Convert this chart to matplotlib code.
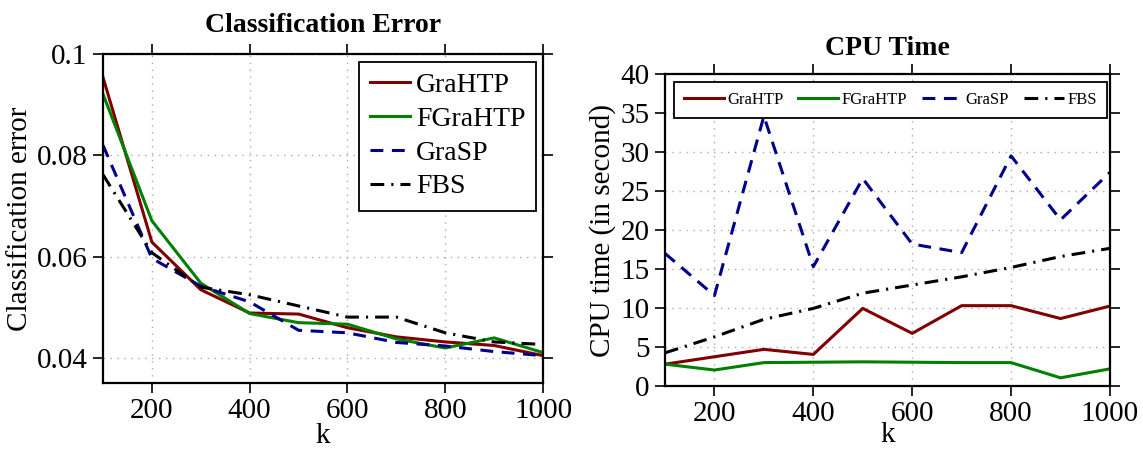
import matplotlib
matplotlib.use("Agg")
import matplotlib.pyplot as plt

# data
k = [100, 200, 300, 400, 500, 600, 700, 800, 900, 1000]

err_grahtp = [0.0954, 0.0629, 0.0535, 0.0489, 0.0487, 0.0460, 0.0442, 0.0432, 0.0425, 0.0405]
err_fgrahtp = [0.0921, 0.0671, 0.0548, 0.0488, 0.0470, 0.0467, 0.0438, 0.0420, 0.0440, 0.0411]
err_grasp = [0.0820, 0.0597, 0.0542, 0.0511, 0.0455, 0.0450, 0.0431, 0.0424, 0.0413, 0.0405]
err_fbs = [0.0762, 0.0608, 0.0540, 0.0525, 0.0503, 0.0481, 0.0481, 0.0450, 0.0432, 0.0427]

cpu_grahtp = [2.8, 3.75, 4.7, 4.05, 9.95, 6.75, 10.3, 10.3, 8.65, 10.25]
cpu_fgrahtp = [2.8, 2.05, 3.0, 3.05, 3.1, 3.05, 3.0, 3.0, 1.05, 2.2]
cpu_grasp = [17.0, 11.6, 34.6, 15.3, 26.6, 18.2, 17.1, 29.5, 21.3, 27.4]
cpu_fbs = [4.25, 6.3, 8.55, 9.95, 11.9, 12.95, 14.0, 15.2, 16.6, 17.65]

names = ["GraHTP", "FGraHTP", "GraSP", "FBS"]

plt.rcParams["font.family"] = ["Liberation Serif", "DejaVu Serif"]
plt.rcParams["xtick.direction"] = "out"
plt.rcParams["ytick.direction"] = "out"
plt.rcParams["xtick.top"] = True
plt.rcParams["ytick.right"] = True
plt.rcParams["xtick.major.size"] = 7
plt.rcParams["ytick.major.size"] = 7
plt.rcParams["xtick.major.width"] = 1.2
plt.rcParams["ytick.major.width"] = 1.2

styles = [
    dict(color="#800000", lw=2.2, ls="-"),
    dict(color="#008000", lw=2.2, ls="-"),
    dict(color="#00008b", lw=2.2, dashes=(4.2, 2.8)),
    dict(color="black", lw=2.2, dashes=(4.5, 2.3, 0.7, 2.3)),
]

fig = plt.figure(figsize=(11.43, 4.5), dpi=100)
ax1 = fig.add_axes([0.0901, 0.1489, 0.385, 0.7311])
ax2 = fig.add_axes([0.5818, 0.1422, 0.3893, 0.6933])


def style_axes(ax, lpad):
    for s in ax.spines.values():
        s.set_linewidth(1.6)
    ax.grid(True, color="#aaaaaa", ls=(0, (1, 4)), lw=1.0)
    ax.set_xlim(100, 1000)
    ax.set_xticks([200, 400, 600, 800, 1000])
    ax.tick_params(labelsize=21, pad=4)
    ax.set_xlabel("k", fontsize=21, labelpad=lpad)


for y, st, n in zip([err_grahtp, err_fgrahtp, err_grasp, err_fbs], styles, names):
    ax1.plot(k, y, label=n, **st)
style_axes(ax1, -1)
ax1.set_ylim(0.0351, 0.1)
ax1.set_yticks([0.04, 0.06, 0.08, 0.1])
ax1.set_yticklabels(["0.04", "0.06", "0.08", "0.1"])
ax1.set_ylabel("Classification error", fontsize=21, labelpad=3)
ax1.set_title("Classification Error", fontsize=20, fontweight="bold", pad=16)
leg1 = ax1.legend(loc="upper right", bbox_to_anchor=(0.985, 0.977), borderaxespad=0,
                  fontsize=20, handlelength=1.45, handletextpad=0.2, labelspacing=0.3,
                  fancybox=False, edgecolor="black", framealpha=1, borderpad=0.4)
leg1.get_frame().set_linewidth(1.3)

for y, st, n in zip([cpu_grahtp, cpu_fgrahtp, cpu_grasp, cpu_fbs], styles, names):
    ax2.plot(k, y, label=n, **st)
style_axes(ax2, -4)
ax2.set_ylim(0, 40)
ax2.set_yticks(range(0, 41, 5))
ax2.set_ylabel("CPU time (in second)", fontsize=21, labelpad=3)
ax2.set_title("CPU Time", fontsize=20, fontweight="bold", pad=14)
leg2 = ax2.legend(loc="upper center", bbox_to_anchor=(0.506, 0.974), borderaxespad=0, ncol=4,
                  fontsize=12, handlelength=2.4, handletextpad=0.2, columnspacing=0.9,
                  fancybox=False, edgecolor="black", framealpha=1, borderpad=0.6)
leg2.get_frame().set_linewidth(1.3)

fig.savefig("out.png", dpi=100)
